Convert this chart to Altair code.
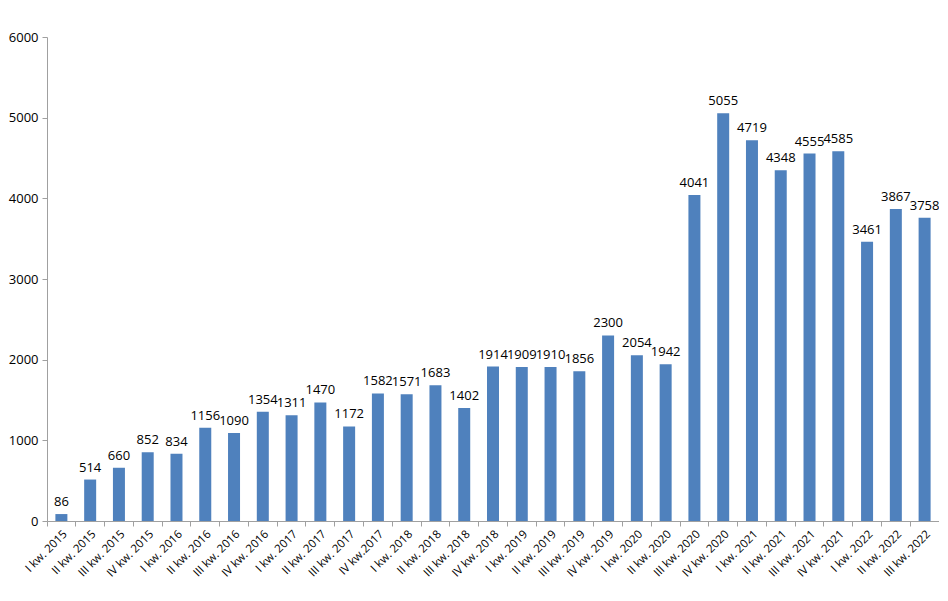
import altair as alt
import pandas as pd

quarters = [
    "I kw. 2015", "II kw. 2015", "III kw. 2015", "IV kw. 2015",
    "I kw. 2016", "II kw. 2016", "III kw. 2016", "IV kw. 2016",
    "I kw. 2017", "II kw. 2017", "III kw. 2017", "IV kw.2017",
    "I kw. 2018", "II kw. 2018", "III kw. 2018", "IV kw. 2018",
    "I kw. 2019", "II kw. 2019", "III kw. 2019", "IV kw. 2019",
    "I kw. 2020", "II kw. 2020", "III kw. 2020", "IV kw. 2020",
    "I kw. 2021", "II kw. 2021", "III kw. 2021", "IV kw. 2021",
    "I kw. 2022", "II kw. 2022", "III kw. 2022",
]
values = [
    86, 514, 660, 852, 834, 1156, 1090, 1354, 1311, 1470, 1172, 1582,
    1571, 1683, 1402, 1914, 1909, 1910, 1856, 2300, 2054, 1942, 4041,
    5055, 4719, 4348, 4555, 4585, 3461, 3867, 3758,
]
y_ticks = [0, 1000, 2000, 3000, 4000, 5000, 6000]

df = pd.DataFrame({"q": quarters, "v": values})
FONT = "Open Sans"

x = alt.X(
    "q:N", sort=quarters, title=None,
    scale=alt.Scale(paddingInner=0, paddingOuter=0),
    axis=alt.Axis(
        labelAngle=-45, labelAlign="right", labelBaseline="top",
        labelFont=FONT, labelFontSize=11.5, labelColor="#000000",
        labelPadding=2, bandPosition=0, tickSize=5, tickColor="#A0A0A0",
        domainColor="#A0A0A0", labelOverlap=False,
    ),
)
y = alt.Y(
    "v:Q", title=None,
    scale=alt.Scale(domain=[0, 6000], nice=False),
    axis=alt.Axis(
        values=y_ticks, format="d", grid=False, labelFont=FONT, labelFontSize=13,
        labelColor="#000000", tickSize=5, tickColor="#A0A0A0",
        domainColor="#A0A0A0", labelPadding=4,
    ),
)

bars = alt.Chart(df).mark_bar(color="#4F81BD", width=12).encode(x=x, y=y)
labels = alt.Chart(df).mark_text(
    baseline="bottom", dy=-5, font=FONT, fontSize=13, color="#000000"
).encode(x=alt.X("q:N", sort=quarters), y="v:Q", text="v:Q")

chart = (
    alt.layer(bars, labels)
    .properties(
        width=892, height=484,
        autosize=alt.AutoSizeParams(type="none"),
        padding={"left": 39, "top": 29, "right": 0, "bottom": 62},
    )
    .configure_view(stroke=None)
)

chart.save("out.html", embed_options={"renderer": "svg", "actions": False})
